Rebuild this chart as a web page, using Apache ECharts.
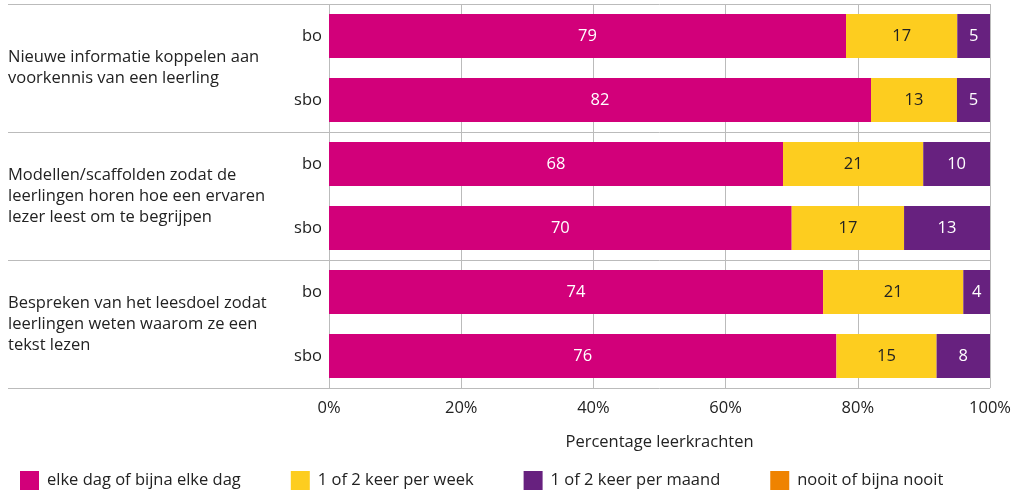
<!DOCTYPE html>
<html>
<head>
<meta charset="utf-8">
<script src="https://cdn.jsdelivr.net/npm/echarts@6/dist/echarts.min.js"></script>
<style>
  html, body { margin: 0; padding: 0; background: #fff; }
  #chart { width: 1014px; height: 492px; }
</style>
</head>
<body>
<div id="chart"></div>
<script>
const rows = ['bo', 'sbo', 'bo', 'sbo', 'bo', 'sbo']
const groups = [
  'Nieuwe informatie koppelen aan\nvoorkennis van een leerling',
  'Modellen/scaffolden zodat de\nleerlingen horen hoe een ervaren\nlezer leest om te begrijpen',
  'Bespreken van het leesdoel zodat\nleerlingen weten waarom ze een\ntekst lezen'
]
const seriesNames = ['elke dag of bijna elke dag', '1 of 2 keer per week', '1 of 2 keer per maand', 'nooit of bijna nooit']
const dagelijks = [79, 82, 68, 70, 74, 76]
const wekelijks = [17, 13, 21, 17, 21, 15]
const maandelijks = [5, 5, 10, 13, 4, 8]
const nooit = [0, 0, 0, 0, 0, 0]
const xTicks = [0, 20, 40, 60, 80, 100]

const colors = ['#d2007a', '#fdcd1f', '#67217f', '#ef8300']
const labelColors = ['#fff', '#222', '#fff', '#222']
const font = 'Open Sans'
const fs = 16.5
const raw = [dagelijks, wekelijks, maandelijks, nooit]

// totals per row, so every bar fills 100%
const totals = rows.map((r, i) => raw.reduce((a, s) => a + s[i], 0))

const series = raw.map((vals, k) => ({
  name: seriesNames[k],
  type: 'bar',
  stack: 'total',
  barWidth: 44,
  itemStyle: {color: colors[k]},
  label: {
    show: true,
    position: 'inside',
    color: labelColors[k],
    fontFamily: font,
    fontSize: fs,
    padding: [3, 0, 0, 0],
    formatter: p => vals[p.dataIndex] ? String(vals[p.dataIndex]) : ''
  },
  data: vals.map((v, i) => v / totals[i] * 100)
}))

const option = {
  animation: false,
  color: colors,
  grid: {left: 329, right: 24, top: 4, bottom: 104},
  legend: {
    left: 15,
    top: 466,
    icon: 'rect',
    itemWidth: 19,
    itemHeight: 19,
    itemGap: 50,
    textStyle: {fontFamily: font, fontSize: fs, color: '#222', padding: [0, 0, 0, 3]},
    data: seriesNames
  },
  xAxis: {
    type: 'value',
    min: xTicks[0],
    max: xTicks[xTicks.length - 1],
    interval: 20,
    axisLine: {show: false},
    axisTick: {show: false},
    splitLine: {lineStyle: {color: '#bbb', width: 1}},
    axisLabel: {formatter: '{value}%', fontFamily: font, fontSize: fs, color: '#222', margin: 12},
    name: 'Percentage leerkrachten',
    nameLocation: 'middle',
    nameGap: 46,
    nameTextStyle: {fontFamily: font, fontSize: fs, color: '#222'}
  },
  yAxis: [
    {
      type: 'category',
      inverse: true,
      data: rows,
      axisLine: {show: false},
      axisTick: {show: false},
      axisLabel: {fontFamily: font, fontSize: fs, color: '#222', margin: 7}
    },
    {
      type: 'category',
      inverse: true,
      position: 'left',
      data: groups,
      axisLine: {show: false},
      axisTick: {show: true, length: 321, lineStyle: {color: '#bbb', width: 1}},
      splitLine: {show: true, lineStyle: {color: '#bbb', width: 1}},
      axisLabel: {
        align: 'left',
        margin: 321,
        fontFamily: font,
        fontSize: fs,
        lineHeight: 21,
        color: '#222'
      }
    }
  ],
  series: series
}

const myChart = echarts.init(document.getElementById('chart'))
myChart.setOption(option)
</script>
</body>
</html>
